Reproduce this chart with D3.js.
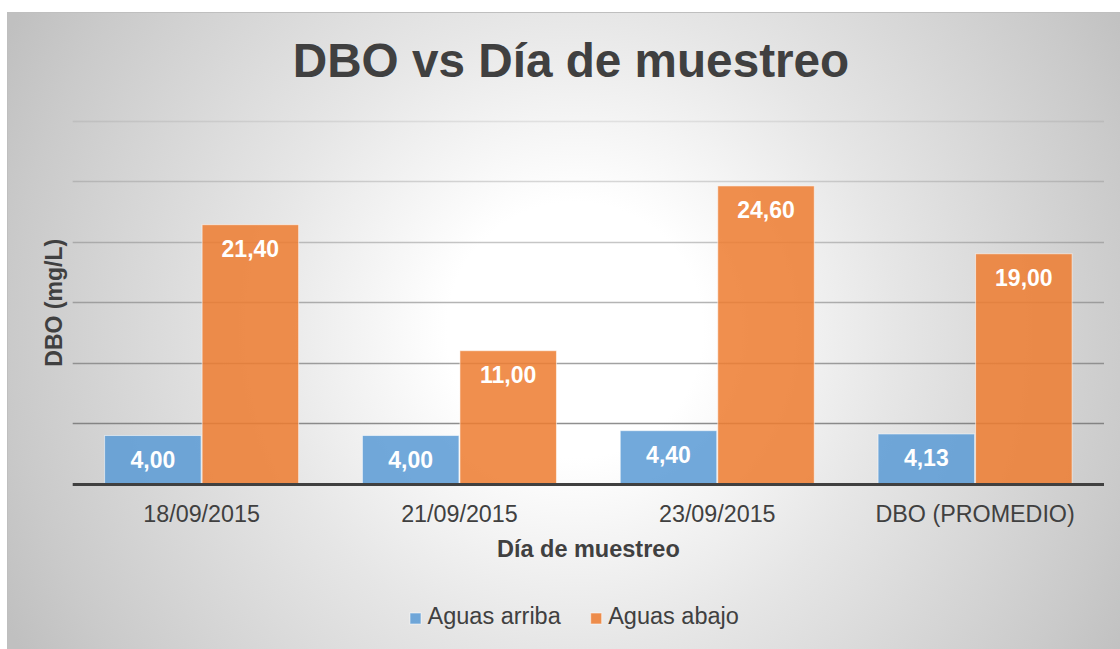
<!DOCTYPE html>
<html>
<head>
<meta charset="utf-8">
<script src="https://cdn.jsdelivr.net/npm/d3@7"></script>
<style>
  html, body { margin: 0; padding: 0; background: #fff; }
  svg { display: block; font-family: "Liberation Sans", Arial, sans-serif; }
</style>
</head>
<body>
<svg id="chart" width="1120" height="649"></svg>
<script>
const categories = ["18/09/2015", "21/09/2015", "23/09/2015", "DBO (PROMEDIO)"];
const seriesNames = ["Aguas arriba", "Aguas abajo"];
const aguasArriba = [4.00, 4.00, 4.40, 4.13];
const aguasAbajo = [21.40, 11.00, 24.60, 19.00];
const yTicks = [5, 10, 15, 20, 25, 30];
const seriesColors = ["#5B9BD5", "#ED7D31"];

const titleText = "DBO vs Día de muestreo";
const xTitleText = "Día de muestreo";
const yTitleText = "DBO (mg/L)";

const svg = d3.select("#chart");
const W = 1120, H = 649;
const plot = { left: 72.7, right: 1104, top: 120.5, bottom: 484 };

const locale = d3.formatLocale({ decimal: ",", thousands: ".", grouping: [3], currency: ["", ""] });
const fmt = locale.format(".2f");

// Background gradient
const defs = svg.append("defs");
const grad = defs.append("radialGradient")
  .attr("id", "bg").attr("gradientUnits", "userSpaceOnUse")
  .attr("cx", 575).attr("cy", 330).attr("r", 640);
[[0, "#ffffff"], [0.2, "#ffffff"], [0.5, "#e6e6e6"], [0.88, "#cacaca"], [1, "#c0c0c0"]]
  .forEach(([o, c]) => grad.append("stop").attr("offset", o).attr("stop-color", c));

svg.append("rect").attr("x", 0).attr("y", 0).attr("width", W).attr("height", H).attr("fill", "#fff");
svg.append("rect").attr("x", 7.5).attr("y", 12.5).attr("width", 1140).attr("height", 660)
  .attr("fill", "url(#bg)").attr("stroke", "#bfbfbf").attr("stroke-width", 1);

const y = d3.scaleLinear().domain([0, 30]).range([plot.bottom, plot.top]);
const p = 0.2436;
const x0 = d3.scaleBand().domain(categories).range([plot.left, plot.right])
  .paddingInner(p).paddingOuter(p / 2);
const x1 = d3.scaleBand().domain(seriesNames).range([0, x0.bandwidth()]).padding(0);

// Gridlines
const gridOpacity = d3.scaleLinear().domain([5, 30]).range([0.75, 0.14]);
svg.append("g").selectAll("line").data(yTicks).join("line")
  .attr("x1", plot.left).attr("x2", plot.right)
  .attr("y1", d => Math.round(y(d)) + 0.5).attr("y2", d => Math.round(y(d)) + 0.5)
  .attr("stroke", "#6a6a6a").attr("stroke-width", 1.3)
  .attr("stroke-opacity", d => gridOpacity(d));

// Bars
const data = categories.map((c, i) => ({ cat: c, values: [aguasArriba[i], aguasAbajo[i]] }));
const groups = svg.append("g").selectAll("g").data(data).join("g")
  .attr("transform", d => `translate(${x0(d.cat)},0)`);

groups.selectAll("rect").data(d => d.values.map((v, j) => ({ v, s: seriesNames[j], j })))
  .join("rect")
  .attr("x", d => x1(d.s) + 0.5)
  .attr("width", x1.bandwidth() - 1)
  .attr("y", d => y(d.v))
  .attr("height", d => y(0) - y(d.v))
  .attr("fill", d => seriesColors[d.j])
  .attr("fill-opacity", 0.86)
  .attr("stroke", "#ffffff").attr("stroke-opacity", 0.55).attr("stroke-width", 1);

groups.selectAll("text").data(d => d.values.map((v, j) => ({ v, s: seriesNames[j], j })))
  .join("text")
  .attr("x", d => x1(d.s) + x1.bandwidth() / 2)
  .attr("y", d => y(d.v) + 32.5)
  .attr("text-anchor", "middle")
  .attr("font-size", 23).attr("font-weight", "bold").attr("fill", "#ffffff")
  .text(d => fmt(d.v));

// Baseline
svg.append("line").attr("x1", plot.left).attr("x2", plot.right)
  .attr("y1", y(0) + 0.5).attr("y2", y(0) + 0.5)
  .attr("stroke", "#404040").attr("stroke-width", 3.2);

// X axis labels
const xAxis = svg.append("g").attr("transform", `translate(0,${plot.bottom})`)
  .call(d3.axisBottom(x0).tickSize(0).tickPadding(0));
xAxis.select(".domain").remove();
xAxis.selectAll("text")
  .attr("y", 38).attr("dy", 0)
  .attr("font-size", 23.3).attr("fill", "#404040")
  .attr("font-family", "\"Liberation Sans\", Arial, sans-serif");

// Titles
svg.append("text").attr("x", 571).attr("y", 77).attr("text-anchor", "middle")
  .attr("font-size", 47.7).attr("font-weight", "bold").attr("fill", "#404040").text(titleText);
svg.append("text").attr("x", (plot.left + plot.right) / 2).attr("y", 556.5).attr("text-anchor", "middle")
  .attr("font-size", 23.5).attr("font-weight", "bold").attr("fill", "#404040").text(xTitleText);
svg.append("text").attr("transform", `translate(62,${(plot.top + plot.bottom) / 2 + 0.5}) rotate(-90)`)
  .attr("text-anchor", "middle")
  .attr("font-size", 23).attr("font-weight", "bold").attr("fill", "#404040").text(yTitleText);

// Legend
const legendX = [410, 590.7];
const leg = svg.append("g").selectAll("g").data(seriesNames).join("g")
  .attr("transform", (d, i) => `translate(${legendX[i]},613)`);
leg.append("rect").attr("width", 11).attr("height", 11)
  .attr("fill", (d, i) => seriesColors[i]).attr("fill-opacity", 0.86)
  .attr("stroke", "#fff").attr("stroke-opacity", 0.55);
leg.append("text").attr("x", 17.5).attr("y", 11)
  .attr("font-size", 23.5).attr("fill", "#404040").text(d => d);
</script>
</body>
</html>
